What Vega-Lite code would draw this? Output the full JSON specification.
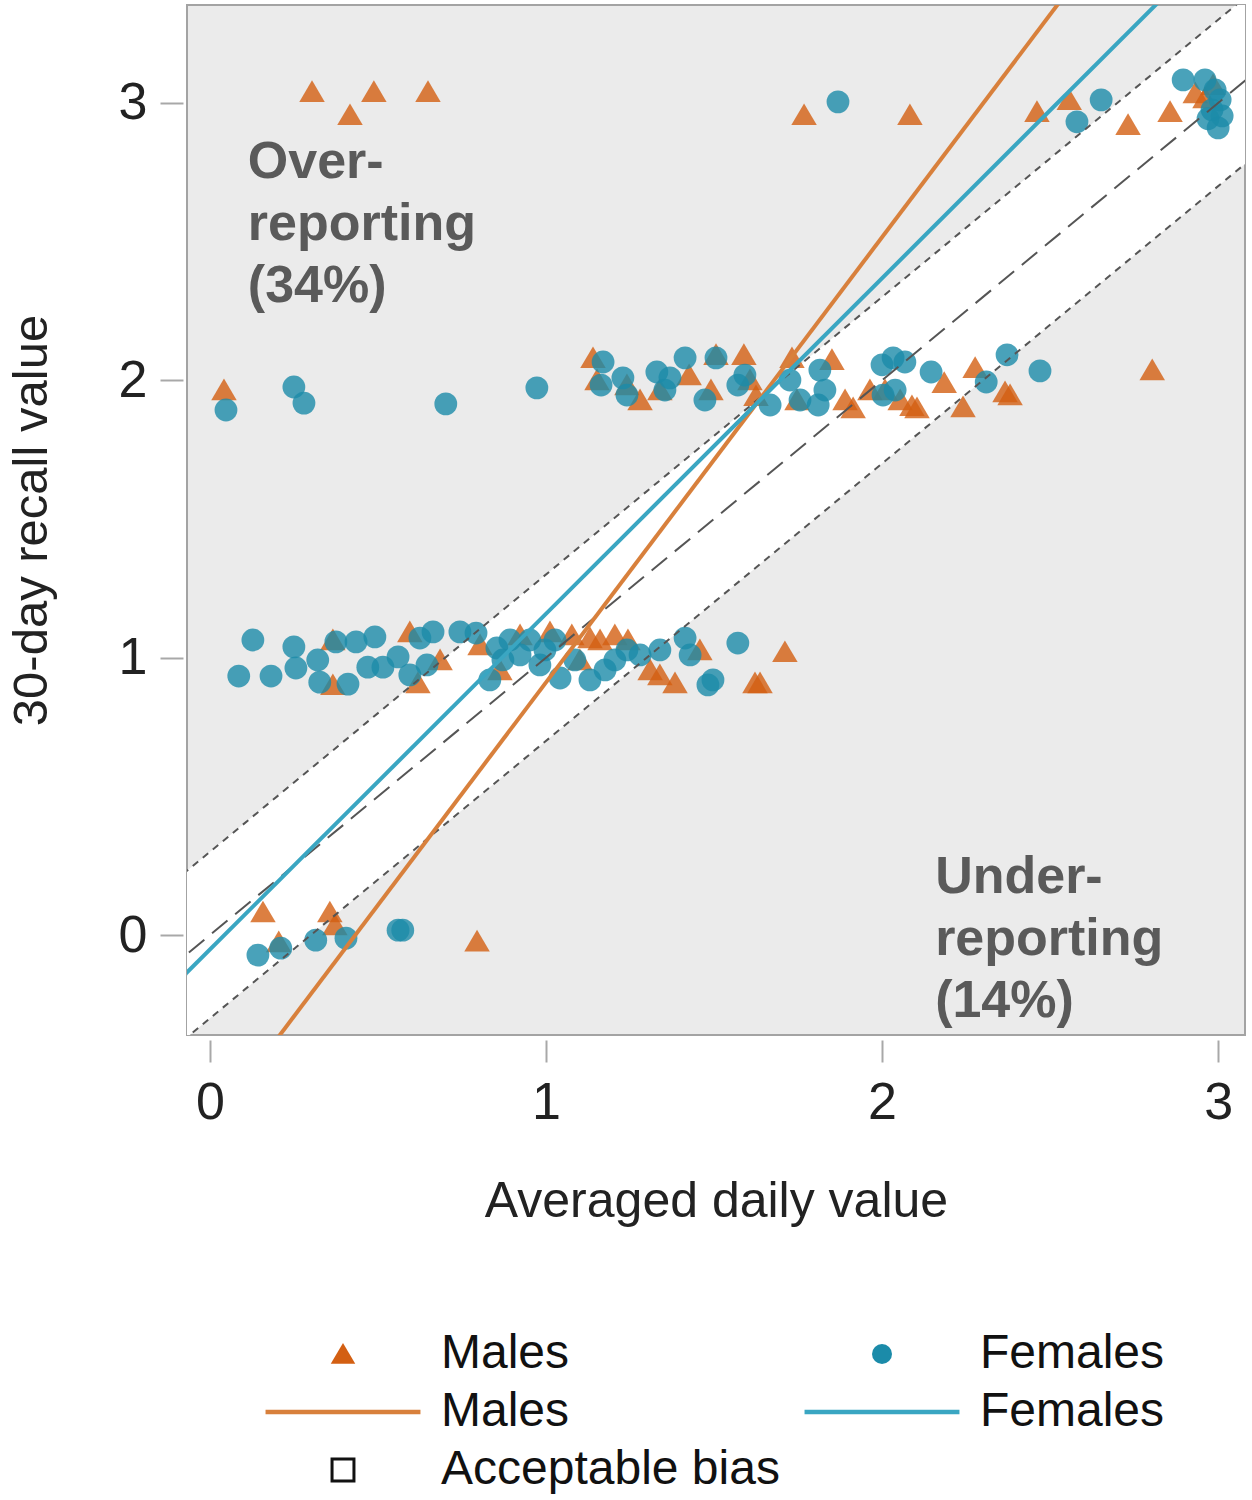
{
  "$schema": "https://vega.github.io/schema/vega-lite/v6.json",
  "width": 1058,
  "height": 1030,
  "autosize": {"type": "none"},
  "padding": {"left": 187, "top": 5, "right": 7, "bottom": 465},
  "background": "white",
  "config": {
    "font": "Liberation Sans",
    "view": {"fill": "#ebebeb", "stroke": "#a3a3a3", "strokeWidth": 2},
    "axis": {
      "grid": false, "domain": false, "tickColor": "#a8a8a8", "tickWidth": 2,
      "labelFontSize": 52, "labelColor": "#222222", "labelFont": "Liberation Sans",
      "titleFontSize": 50, "titleFontWeight": "normal", "titleColor": "#222222", "titleFont": "Liberation Sans"
    }
  },
  "layer": [
    {
      "data": {"values": [{"x": -0.2, "y": -0.5, "y2": 0.1}, {"x": 3.3, "y": 3.0, "y2": 3.6}]},
      "mark": {"type": "area", "color": "white", "clip": true},
      "encoding": {
        "x": {"field": "x", "type": "quantitative", "title": "Averaged daily value",
          "scale": {"domain": [-0.068, 3.08], "nice": false, "zero": false},
          "axis": {"values": [0, 1, 2, 3], "format": "d", "offset": 5, "tickSize": 22, "labelPadding": 15, "titlePadding": 48}},
        "y": {"field": "y", "type": "quantitative", "title": "30-day recall value",
          "scale": {"domain": [-0.36, 3.353], "nice": false, "zero": false},
          "axis": {"values": [0, 1, 2, 3], "format": "d", "offset": 4, "tickSize": 23, "labelPadding": 13, "titlePadding": 62, "titleFontSize": 49, "labelAngle": 0}},
        "y2": {"field": "y2"}
      }
    },
    {
      "data": {"values": [
        {"g": "Males points", "x": 0.304, "y": 3.04}, {"g": "Males points", "x": 0.417, "y": 2.957}, {"g": "Males points", "x": 0.488, "y": 3.04}, {"g": "Males points", "x": 0.649, "y": 3.04},
        {"g": "Males points", "x": 1.768, "y": 2.957}, {"g": "Males points", "x": 2.083, "y": 2.957}, {"g": "Males points", "x": 2.461, "y": 2.968}, {"g": "Males points", "x": 2.557, "y": 3.011},
        {"g": "Males points", "x": 2.732, "y": 2.921}, {"g": "Males points", "x": 2.857, "y": 2.968}, {"g": "Males points", "x": 2.932, "y": 3.036}, {"g": "Males points", "x": 2.961, "y": 3.018},
        {"g": "Males points", "x": 2.985, "y": 3.065},
        {"g": "Males points", "x": 0.042, "y": 1.965}, {"g": "Males points", "x": 1.14, "y": 2.081}, {"g": "Males points", "x": 1.152, "y": 2.001}, {"g": "Males points", "x": 1.241, "y": 1.983},
        {"g": "Males points", "x": 1.28, "y": 1.929}, {"g": "Males points", "x": 1.339, "y": 1.965}, {"g": "Males points", "x": 1.426, "y": 2.019}, {"g": "Males points", "x": 1.491, "y": 1.965},
        {"g": "Males points", "x": 1.506, "y": 2.092}, {"g": "Males points", "x": 1.589, "y": 2.092}, {"g": "Males points", "x": 1.607, "y": 2.001}, {"g": "Males points", "x": 1.625, "y": 1.944},
        {"g": "Males points", "x": 1.732, "y": 2.081}, {"g": "Males points", "x": 1.747, "y": 1.929}, {"g": "Males points", "x": 1.851, "y": 2.074}, {"g": "Males points", "x": 1.89, "y": 1.929},
        {"g": "Males points", "x": 1.914, "y": 1.9}, {"g": "Males points", "x": 1.964, "y": 1.965}, {"g": "Males points", "x": 2.009, "y": 1.965}, {"g": "Males points", "x": 2.054, "y": 1.929},
        {"g": "Males points", "x": 2.089, "y": 1.908}, {"g": "Males points", "x": 2.104, "y": 1.9}, {"g": "Males points", "x": 2.185, "y": 1.991}, {"g": "Males points", "x": 2.241, "y": 1.904},
        {"g": "Males points", "x": 2.277, "y": 2.045}, {"g": "Males points", "x": 2.366, "y": 1.958}, {"g": "Males points", "x": 2.381, "y": 1.947}, {"g": "Males points", "x": 2.804, "y": 2.037},
        {"g": "Males points", "x": 0.366, "y": 1.064}, {"g": "Males points", "x": 0.366, "y": 0.902}, {"g": "Males points", "x": 0.595, "y": 1.093}, {"g": "Males points", "x": 0.619, "y": 0.909},
        {"g": "Males points", "x": 0.685, "y": 0.992}, {"g": "Males points", "x": 0.804, "y": 1.046}, {"g": "Males points", "x": 0.863, "y": 0.956}, {"g": "Males points", "x": 0.923, "y": 1.082},
        {"g": "Males points", "x": 1.012, "y": 1.093}, {"g": "Males points", "x": 1.077, "y": 1.082}, {"g": "Males points", "x": 1.131, "y": 1.071}, {"g": "Males points", "x": 1.161, "y": 1.064},
        {"g": "Males points", "x": 1.205, "y": 1.082}, {"g": "Males points", "x": 1.244, "y": 1.064}, {"g": "Males points", "x": 1.31, "y": 0.956}, {"g": "Males points", "x": 1.339, "y": 0.938},
        {"g": "Males points", "x": 1.384, "y": 0.909}, {"g": "Males points", "x": 1.458, "y": 1.028}, {"g": "Males points", "x": 1.622, "y": 0.909}, {"g": "Males points", "x": 1.637, "y": 0.909},
        {"g": "Males points", "x": 1.711, "y": 1.021}, {"g": "Males points", "x": 1.101, "y": 0.992},
        {"g": "Males points", "x": 0.158, "y": 0.083}, {"g": "Males points", "x": 0.205, "y": -0.025}, {"g": "Males points", "x": 0.357, "y": 0.083}, {"g": "Males points", "x": 0.372, "y": 0.036},
        {"g": "Males points", "x": 0.795, "y": -0.022},
        {"g": "Females points", "x": 1.869, "y": 3.004}, {"g": "Females points", "x": 2.58, "y": 2.932}, {"g": "Females points", "x": 2.652, "y": 3.011}, {"g": "Females points", "x": 2.896, "y": 3.083},
        {"g": "Females points", "x": 2.961, "y": 3.083}, {"g": "Females points", "x": 2.991, "y": 3.047}, {"g": "Females points", "x": 2.982, "y": 2.975}, {"g": "Females points", "x": 3.0, "y": 2.91},
        {"g": "Females points", "x": 3.006, "y": 3.011}, {"g": "Females points", "x": 2.97, "y": 2.943}, {"g": "Females points", "x": 3.012, "y": 2.953},
        {"g": "Females points", "x": 0.048, "y": 1.893}, {"g": "Females points", "x": 0.25, "y": 1.976}, {"g": "Females points", "x": 0.28, "y": 1.918}, {"g": "Females points", "x": 0.702, "y": 1.915},
        {"g": "Females points", "x": 0.973, "y": 1.973}, {"g": "Females points", "x": 1.17, "y": 2.066}, {"g": "Females points", "x": 1.164, "y": 1.983}, {"g": "Females points", "x": 1.229, "y": 2.009},
        {"g": "Females points", "x": 1.241, "y": 1.947}, {"g": "Females points", "x": 1.33, "y": 2.03}, {"g": "Females points", "x": 1.354, "y": 1.965}, {"g": "Females points", "x": 1.414, "y": 2.081},
        {"g": "Females points", "x": 1.369, "y": 2.009}, {"g": "Females points", "x": 1.473, "y": 1.929}, {"g": "Females points", "x": 1.506, "y": 2.081}, {"g": "Females points", "x": 1.571, "y": 1.983},
        {"g": "Females points", "x": 1.592, "y": 2.019}, {"g": "Females points", "x": 1.667, "y": 1.911}, {"g": "Females points", "x": 1.756, "y": 1.929}, {"g": "Females points", "x": 1.726, "y": 2.001},
        {"g": "Females points", "x": 1.815, "y": 2.037}, {"g": "Females points", "x": 1.83, "y": 1.965}, {"g": "Females points", "x": 1.81, "y": 1.911}, {"g": "Females points", "x": 2.0, "y": 2.056},
        {"g": "Females points", "x": 2.033, "y": 2.081}, {"g": "Females points", "x": 2.068, "y": 2.066}, {"g": "Females points", "x": 2.003, "y": 1.947}, {"g": "Females points", "x": 2.039, "y": 1.965},
        {"g": "Females points", "x": 2.146, "y": 2.03}, {"g": "Females points", "x": 2.31, "y": 1.994}, {"g": "Females points", "x": 2.372, "y": 2.092}, {"g": "Females points", "x": 2.47, "y": 2.034},
        {"g": "Females points", "x": 0.128, "y": 1.064}, {"g": "Females points", "x": 0.086, "y": 0.934}, {"g": "Females points", "x": 0.182, "y": 0.934}, {"g": "Females points", "x": 0.25, "y": 1.039},
        {"g": "Females points", "x": 0.256, "y": 0.963}, {"g": "Females points", "x": 0.321, "y": 0.992}, {"g": "Females points", "x": 0.327, "y": 0.912}, {"g": "Females points", "x": 0.375, "y": 1.057},
        {"g": "Females points", "x": 0.411, "y": 0.905}, {"g": "Females points", "x": 0.435, "y": 1.057}, {"g": "Females points", "x": 0.491, "y": 1.075}, {"g": "Females points", "x": 0.47, "y": 0.966},
        {"g": "Females points", "x": 0.515, "y": 0.966}, {"g": "Females points", "x": 0.56, "y": 1.003}, {"g": "Females points", "x": 0.595, "y": 0.938}, {"g": "Females points", "x": 0.625, "y": 1.071},
        {"g": "Females points", "x": 0.664, "y": 1.093}, {"g": "Females points", "x": 0.646, "y": 0.974}, {"g": "Females points", "x": 0.744, "y": 1.093}, {"g": "Females points", "x": 0.792, "y": 1.089},
        {"g": "Females points", "x": 0.854, "y": 1.035}, {"g": "Females points", "x": 0.872, "y": 0.992}, {"g": "Females points", "x": 0.893, "y": 1.064}, {"g": "Females points", "x": 0.952, "y": 1.064},
        {"g": "Females points", "x": 0.997, "y": 1.028}, {"g": "Females points", "x": 1.042, "y": 0.927}, {"g": "Females points", "x": 1.086, "y": 0.992}, {"g": "Females points", "x": 1.131, "y": 0.92},
        {"g": "Females points", "x": 1.176, "y": 0.956}, {"g": "Females points", "x": 1.205, "y": 0.992}, {"g": "Females points", "x": 1.241, "y": 1.028}, {"g": "Females points", "x": 1.28, "y": 1.01},
        {"g": "Females points", "x": 1.339, "y": 1.028}, {"g": "Females points", "x": 1.414, "y": 1.071}, {"g": "Females points", "x": 1.429, "y": 1.01}, {"g": "Females points", "x": 1.482, "y": 0.902},
        {"g": "Females points", "x": 1.497, "y": 0.92}, {"g": "Females points", "x": 1.571, "y": 1.053}, {"g": "Females points", "x": 0.923, "y": 1.01}, {"g": "Females points", "x": 0.982, "y": 0.974},
        {"g": "Females points", "x": 1.027, "y": 1.064}, {"g": "Females points", "x": 0.833, "y": 0.92},
        {"g": "Females points", "x": 0.143, "y": -0.072}, {"g": "Females points", "x": 0.211, "y": -0.047}, {"g": "Females points", "x": 0.315, "y": -0.018}, {"g": "Females points", "x": 0.405, "y": -0.011},
        {"g": "Females points", "x": 0.56, "y": 0.018}, {"g": "Females points", "x": 0.574, "y": 0.018}
      ]},
      "mark": {"type": "point", "filled": true, "opacity": 0.8, "strokeWidth": 0},
      "encoding": {
        "x": {"field": "x", "type": "quantitative", "title": "Averaged daily value"},
        "y": {"field": "y", "type": "quantitative", "title": "30-day recall value"},
        "color": {"field": "g", "type": "nominal",
          "scale": {"domain": ["Males points", "Females points", "Males line", "Females line", "Acceptable bias"],
                    "range": ["#d35f12", "#1b8ba9", "#d8803c", "#3aa6c2", "#ffffff"]},
          "legend": {
            "title": null, "orient": "bottom", "direction": "horizontal", "columns": 2,
            "labelExpr": "datum.label == 'Acceptable bias' ? datum.label : split(datum.label, ' ')[0]",
            "labelFontSize": 48, "labelColor": "#111111", "labelFont": "Liberation Sans", "labelLimit": 1000,
            "symbolSize": 625, "symbolOpacity": 1, "symbolOffset": 54, "labelOffset": 74,
            "padding": 78, "columnPadding": 15, "rowPadding": 10, "offset": 26,
            "encode": {"symbols": {"update": {
              "shape": {"signal": "datum.value == 'Males points' ? 'M0,-0.9L1,0.8L-1,0.8Z' : datum.value == 'Females points' ? 'circle' : datum.value == 'Acceptable bias' ? 'square' : 'stroke'"},
              "size": {"signal": "datum.value == 'Males points' ? 600 : datum.value == 'Females points' ? 400 : datum.value == 'Acceptable bias' ? 480 : 24000"},
              "stroke": {"signal": "datum.value == 'Males line' ? '#d8803c' : datum.value == 'Females line' ? '#3aa6c2' : datum.value == 'Acceptable bias' ? '#111111' : 'transparent'"},
              "strokeWidth": {"signal": "datum.value == 'Acceptable bias' ? 3 : (datum.value == 'Males points' || datum.value == 'Females points') ? 0 : 4.5"},
              "opacity": {"value": 1}
            }}}
          }},
        "shape": {"field": "g", "type": "nominal", "legend": null,
          "scale": {"domain": ["Males points", "Females points"], "range": ["M0,-0.9L1,0.8L-1,0.8Z", "circle"]}},
        "size": {"field": "g", "type": "nominal", "legend": null,
          "scale": {"domain": ["Males points", "Females points"], "range": [650, 520]}}
      }
    },
    {
      "data": {"values": [{"x": -0.2, "y": 0.1, "x2": 3.3, "y2": 3.6}, {"x": -0.2, "y": -0.5, "x2": 3.3, "y2": 3.0}]},
      "mark": {"type": "rule", "color": "#555555", "strokeWidth": 2, "strokeDash": [7, 6], "clip": true},
      "encoding": {
        "x": {"field": "x", "type": "quantitative", "title": "Averaged daily value"},
        "y": {"field": "y", "type": "quantitative", "title": "30-day recall value"},
        "x2": {"field": "x2"}, "y2": {"field": "y2"}
      }
    },
    {
      "data": {"values": [{"x": -0.2, "y": -0.2, "x2": 3.3, "y2": 3.3}]},
      "mark": {"type": "rule", "color": "#555555", "strokeWidth": 2, "strokeDash": [20, 10], "clip": true},
      "encoding": {
        "x": {"field": "x", "type": "quantitative", "title": "Averaged daily value"},
        "y": {"field": "y", "type": "quantitative", "title": "30-day recall value"},
        "x2": {"field": "x2"}, "y2": {"field": "y2"}
      }
    },
    {
      "data": {"values": [{"x": -0.1, "y": -0.855, "x2": 3.2, "y2": 4.442}]},
      "mark": {"type": "rule", "color": "#d8803c", "strokeWidth": 4, "clip": true},
      "encoding": {
        "x": {"field": "x", "type": "quantitative", "title": "Averaged daily value"},
        "y": {"field": "y", "type": "quantitative", "title": "30-day recall value"},
        "x2": {"field": "x2"}, "y2": {"field": "y2"}
      }
    },
    {
      "data": {"values": [{"x": -0.1, "y": -0.173, "x2": 3.2, "y2": 3.82}]},
      "mark": {"type": "rule", "color": "#3aa6c2", "strokeWidth": 4, "clip": true},
      "encoding": {
        "x": {"field": "x", "type": "quantitative", "title": "Averaged daily value"},
        "y": {"field": "y", "type": "quantitative", "title": "30-day recall value"},
        "x2": {"field": "x2"}, "y2": {"field": "y2"}
      }
    },
    {
      "data": {"values": [
        {"x": 0.113, "y": 2.73, "label": "Over-\nreporting\n(34%)"},
        {"x": 2.158, "y": 0.151, "label": "Under-\nreporting\n(14%)"}
      ]},
      "mark": {"type": "text", "align": "left", "baseline": "alphabetic", "lineBreak": "\n", "lineHeight": 62,
               "fontSize": 52, "fontWeight": "bold", "color": "#5a5a5a", "font": "Liberation Sans"},
      "encoding": {
        "x": {"field": "x", "type": "quantitative", "title": "Averaged daily value"},
        "y": {"field": "y", "type": "quantitative", "title": "30-day recall value"},
        "text": {"field": "label"}
      }
    }
  ]
}
